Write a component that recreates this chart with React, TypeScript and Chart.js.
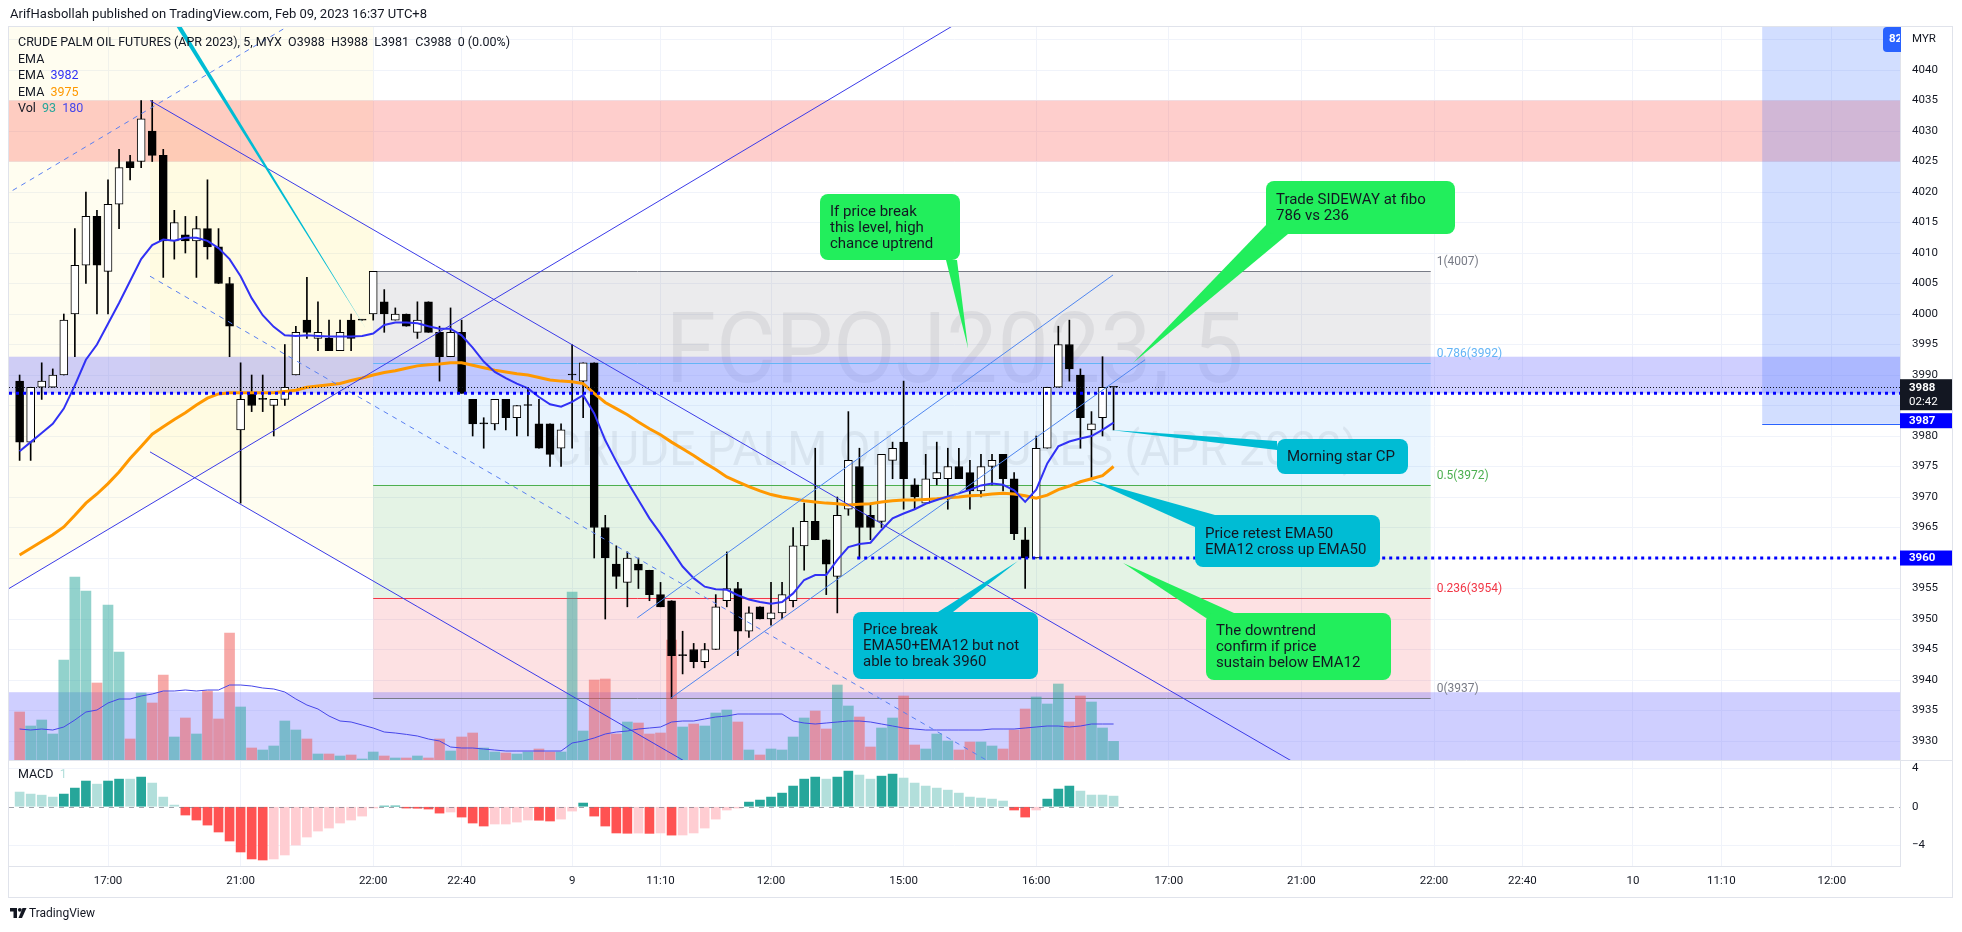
import { useEffect, useRef } from "react";
import { Chart, registerables } from "chart.js";

Chart.register(...registerables);

const FONT = 'Roboto, "Open Sans", "DejaVu Sans", sans-serif';

// ---------------- data (5-minute bars, FCPO Apr 2023) ----------------
const opens = [3989,3979,3988,3988,3990,4000,4008,4016,4007,4018, 4025,4025,4030,4026,4012,4013,4012,4014,4011,4005, 3981,3987,3986,3985,3986,3990,3999,3996,3996,3994, 3999,3999,4000,4002,3999,4000,3997,4002,3997,3993, 3997,3986,3982,3982,3986,3983,3985,3982,3982,3978, 3990,3989,3992,3965,3959,3956,3959,3958,3954,3953, 3944,3945,3943,3945,3953,3955,3948,3952,3950,3951, 3953,3962,3966,3963,3957,3968,3975,3967,3966,3976, 3979,3972,3969,3973,3973,3975,3974,3971,3975,3977, 3973,3963,3960,3978,3988,3995,3990,3981,3983,3988];
const highs = [3990,3988,3992,3991,4000,4014,4020,4017,4022,4027, 4026,4035,4035,4027,4017,4016,4016,4022,4014,4006, 3992,3990,3990,3986,3995,3998,4006,4002,3999,3999, 4000,3999,4007,4004,4001,4000,4002,4002,3998,4001, 3999,3986,3983,3986,3986,3985,3988,3986,3982,3982, 3995,3992,3992,3967,3962,3961,3960,3958,3956,3953, 3948,3946,3946,3954,3961,3956,3952,3952,3956,3956, 3965,3969,3978,3963,3970,3984,3978,3969,3977,3979, 3989,3973,3977,3979,3978,3978,3976,3977,3977,3977, 3974,3965,3980,3988,3998,3999,3991,3984,3993,3988];
const lows = [3976,3976,3986,3988,3990,3993,4005,4000,4000,4014, 4022,4024,4025,4006,4009,4010,4006,4009,4005,3993, 3969,3984,3984,3980,3985,3990,3996,3994,3994,3994, 3994,3999,3999,3997,3999,3998,3996,3997,3989,3993, 3987,3980,3978,3981,3981,3980,3980,3978,3975,3975, 3978,3983,3960,3950,3955,3952,3955,3953,3952,3937, 3941,3942,3942,3945,3952,3944,3947,3950,3949,3950, 3952,3958,3963,3954,3951,3967,3960,3963,3965,3973, 3968,3968,3969,3972,3968,3973,3968,3970,3972,3971, 3963,3955,3960,3978,3988,3989,3978,3973,3980,3981];
const closes = [3979,3988,3989,3990,3999,4008,4016,4008,4018,4024, 4024,4032,4026,4012,4015,4012,4014,4011,4005,3998, 3986,3985,3986,3986,3988,3997,3997,3997,3994,3997, 3996,3999,4007,4000,4000,3998,3999,3997,3993,3997, 3987,3982,3982,3986,3983,3985,3985,3978,3977,3981, 3990,3992,3965,3960,3957,3960,3958,3954,3952,3944, 3944,3943,3945,3952,3955,3948,3951,3950,3951,3954, 3962,3966,3963,3959,3967,3976,3965,3965,3977,3978, 3973,3970,3973,3974,3975,3973,3971,3975,3976,3973, 3964,3960,3978,3988,3995,3991,3983,3982,3988,3988];
const volumes = [240,170,200,130,500,915,845,385,775,540, 105,335,285,425,115,210,130,345,205,635, 265,60,50,70,195,150,105,30,30,20, 25,5,40,20,10,10,20,10,105,45, 115,135,60,40,35,30,40,55,40,40, 840,145,400,405,130,190,185,130,135,600, 165,180,170,235,250,190,50,25,55,50, 115,210,245,155,375,270,215,65,160,210, 320,75,55,130,95,50,90,90,70,55, 150,255,315,280,380,190,320,290,160,93];
const volumeMA = [155,150,155,150,165,200,240,250,285,305, 305,320,330,345,345,350,345,350,350,375, 375,370,360,355,340,305,275,255,220,195, 190,175,160,140,135,128,120,105,95,65, 60,60,55,50,45,45,45,45,45,45, 85,95,110,130,140,145,155,160,165,190, 195,195,205,215,220,230,230,230,230,230, 195,185,180,185,190,195,195,190,180,170, 160,155,150,150,150,150,150,150,155,155, 155,160,165,170,170,165,170,180,180,180];
const ema12 = [3977.5,3979,3980.5,3982,3984.5,3988.3,3992.5,3995,3998.4,4001.8, 4005.4,4009,4011.3,4012.2,4012,4012.5,4012.5,4012,4010.8,4009, 4006.2,4002.6,3999.8,3997.9,3996.5,3996.4,3996.5,3996.4,3996.3,3996.3, 3996.3,3996.4,3996.8,3998.2,3998.6,3998.6,3998.5,3998,3997.6,3997.6, 3996.5,3994.5,3992.2,3990.5,3989.5,3988.6,3987.8,3986.4,3985.2,3984.8, 3985.6,3986.7,3983.7,3979.3,3975.8,3972.5,3969.5,3966.5,3964,3961.3, 3958.6,3956.7,3955.3,3954.9,3954.8,3953.9,3953.2,3952.8,3952.5,3952.8, 3954.2,3956.4,3957.2,3957.2,3959.7,3961.8,3962.3,3962.5,3964.6,3966.5, 3967.3,3968,3968.9,3969.5,3970.1,3970.6,3971.2,3971.9,3972.2,3972, 3971.1,3969.2,3971.2,3975.5,3978.3,3979.1,3979.6,3980,3981,3982.2];
const ema50 = [3960.5,3961.6,3962.7,3963.8,3965.1,3967,3969,3970.5,3972.2,3974.1, 3976.3,3978.3,3980.3,3981.5,3982.7,3983.8,3985.1,3986.2,3986.9,3987.1, 3987.1,3987.1,3987.1,3987.1,3987.3,3987.5,3988,3988.2,3988.4,3988.6, 3989.1,3989.5,3990,3990.4,3990.7,3991.1,3991.5,3991.7,3991.8,3992, 3992,3991.6,3991.2,3990.8,3990.5,3990.2,3990,3989.6,3989.2,3989, 3988.9,3988.6,3987,3985.5,3984.5,3983.5,3982.3,3981.2,3980.2,3979, 3977.9,3976.8,3975.6,3974.5,3973.3,3972.5,3971.7,3971,3970.4,3970, 3969.7,3969.4,3969.2,3969,3968.9,3968.7,3968.8,3968.9,3969.2,3969.4, 3969.5,3969.5,3969.6,3969.7,3969.9,3970,3970.2,3970.3,3970.5,3970.6, 3970.5,3970.2,3969.8,3970.3,3971.2,3971.8,3972.5,3973,3973.5,3975];
const macdHist = [1.52,1.31,1.2,1.0,1.31,1.93,2.66,2.34,2.66,2.86, 2.86,3.07,2.45,1.0,0.17,-0.86,-1.38,-1.9,-2.62,-3.55, -4.69,-5.41,-5.52,-5.41,-5.0,-3.97,-3.14,-2.52,-2.21,-1.69, -1.38,-0.97,-0.14,0.07,0.08,-0.14,-0.16,-0.24,-0.66,-0.55, -1.07,-1.69,-2.0,-1.79,-1.79,-1.59,-1.38,-1.4,-1.48,-1.28, -0.45,0.38,-0.97,-2.0,-2.72,-2.75,-2.73,-2.76,-2.72,-2.94, -2.93,-2.72,-2.21,-1.28,-0.34,-0.14,0.48,0.69,1.0,1.41, 2.14,2.86,3.07,2.86,3.07,3.69,3.28,2.86,3.17,3.38, 2.97,2.45,2.14,1.93,1.72,1.41,1.0,0.9,0.79,0.59, -0.34,-1.07,-0.34,0.79,1.83,2.14,1.62,1.21,1.21,1.1];

const timeTickIndex = [8,20,32,40,50,58,68,80,92,104,116,128,136,146,154,164];
const timeTickLabels = ["17:00","21:00","22:00","22:40","9","11:10","12:00","15:00","16:00","17:00","21:00","22:00","22:40","10","11:10","12:00"];
const priceTicks = [3930,3935,3940,3945,3950,3955,3960,3965,3970,3975,3980,3985,3990,3995,4000,4005,4010,4015,4020,4025,4030,4035,4040,4045];
const badgeCoveredTicks = [3960, 3985];
const macdTicks = [-4, 0, 4];

const fibRatios = [1, 0.786, 0.5, 0.236, 0];
const fibColors = ["#787b86", "#64b5f6", "#4caf50", "#f23645", "#787b86"];
const fibFills = ["rgba(120,123,134,0.15)", "rgba(100,181,246,0.15)", "rgba(76,175,80,0.15)", "rgba(242,54,69,0.15)"];
const fibHigh = 4007, fibLow = 3937, fibStartIdx = 32, fibEndIdx = 127.7;

const hLinePrices = [3987, 3960];
const hLineStartIdx = [-2, 75.8];
const countdown = "02:42";

// axis ranges
const X_MIN = -0.96, X_MAX = 170.17;
const PRICE_MIN = 3926.89, PRICE_MAX = 4047.05;
const MACD_MIN = -6.14, MACD_MAX = 4.84;
const VOL_MIN = -530, VOL_MAX = 3665;

// drawings (time index, price)
const ascChannel = { i0: -0.87, p0: 3955.1, slope: 1.08, width: 64.9, fillEnd: 32 };
const descChannel = { i0: 11.8, upper: 4035, mid: 4006.2, lower: 3977.4, slope: -1.048, fillEnd: 32 };
const thinLines = [[55.9, 3950.2, 98.95, 4006.4], [58.95, 3937.05, 101.85, 3992.5]];

const callouts = [
  { lines: ["If price break", "this level, high", "chance uptrend"], color: "#22ee5c", anchor: [85.83, 3994.4], box: [72.43, 4019.67], size: [140, 66], tail: [[126, 66], [137, 66]] },
  { lines: ["Trade SIDEWAY at fibo", "786 vs 236"], color: "#22ee5c", anchor: [100.76, 3991.97], box: [112.8, 4021.8], size: [189, 53], tail: [[0, 44], [22, 53]] },
  { lines: ["Morning star CP"], color: "#00bcd4", anchor: [98.77, 3980.98], box: [113.8, 3979.5], size: [131, 35], tail: [[0, 2], [0, 11]] },
  { lines: ["Price retest EMA50", "EMA12 cross up EMA50"], color: "#00bcd4", anchor: [96.87, 3972.79], box: [106.4, 3967.05], size: [185, 52], tail: [[0, 12], [20, 0]] },
  { lines: ["The downtrend", "confirm if price", "sustain below EMA12"], color: "#22ee5c", anchor: [99.86, 3959.18], box: [107.4, 3950.98], size: [185, 67], tail: [[0, 5], [28, 0]] },
  { lines: ["Price break", "EMA50+EMA12 but not", "able to break 3960"], color: "#00bcd4", anchor: [90.35, 3959.51], box: [75.43, 3951.15], size: [185, 67], tail: [[85, 0], [100, 0]] },
];
const topTail = { anchor: [31.3, 3997.7], base: [[4.18, 4076.07], [4.9, 4076.07]] };

function rr(ctx: any, x: number, y: number, w: number, h: number, r: number) {
  ctx.beginPath();
  ctx.moveTo(x + r, y);
  ctx.arcTo(x + w, y, x + w, y + h, r);
  ctx.arcTo(x + w, y + h, x, y + h, r);
  ctx.arcTo(x, y + h, x, y, r);
  ctx.arcTo(x, y, x + w, y, r);
  ctx.closePath();
}

export default function App() {
  const ref = useRef<HTMLCanvasElement>(null);

  useEffect(() => {
    const canvas = ref.current!;
    const idx = opens.map((_, i) => i);
    const last = opens.length - 1;

    const macdColors = macdHist.map((v, i) => {
      const prev = i > 0 ? macdHist[i - 1] : undefined;
      if (v >= 0) return prev !== undefined && v > prev ? "#26a69a" : "#b2dfdb";
      return prev !== undefined && v < prev ? "#ff5252" : "#ffcdd2";
    });

    const overlay = {
      id: "overlay",
      beforeDraw(chart: any) {
        const ctx = chart.ctx;
        ctx.save();
        ctx.fillStyle = "#ffffff";
        ctx.fillRect(0, 0, chart.width, chart.height);
        ctx.restore();
      },
      beforeDatasetsDraw(chart: any) {
        const ctx = chart.ctx;
        const xs = chart.scales.x, ys = chart.scales.y;
        const L = chart.chartArea.left, R = chart.chartArea.right, T = ys.top, B = ys.bottom;
        const X = (v: number) => xs.getPixelForValue(v);
        const Y = (p: number) => ys.getPixelForValue(p);
        ctx.save();
        ctx.beginPath(); ctx.rect(L, T, R - L, B - T); ctx.clip();

        // watermark
        const cx = (L + R) / 2, cy = (T + B) / 2;
        ctx.fillStyle = "rgba(120,123,134,0.13)";
        ctx.textAlign = "center"; ctx.textBaseline = "alphabetic";
        const fit = (t: string, size: number, target: number, y: number) => {
          ctx.font = `${size}px ${FONT}`;
          const w = ctx.measureText(t).width;
          ctx.save(); ctx.translate(cx, y); ctx.scale(target / w, 1); ctx.fillText(t, 0, 0); ctx.restore();
        };
        fit("FCPOJ2023, 5", 98, 578, cy - 11.5);
        fit("CRUDE PALM OIL FUTURES (APR 2023)", 48, 807, cy + 71.5);

        // ascending channel fill (above lower line, until fillEnd)
        const aP = (i: number) => ascChannel.p0 + ascChannel.slope * (i - ascChannel.i0);
        ctx.fillStyle = "rgba(255,238,90,0.09)";
        ctx.beginPath();
        ctx.moveTo(X(X_MIN), Y(aP(X_MIN)));
        ctx.lineTo(X(ascChannel.fillEnd), Y(aP(ascChannel.fillEnd)));
        ctx.lineTo(X(ascChannel.fillEnd), Y(aP(ascChannel.fillEnd) + 2 * ascChannel.width));
        ctx.lineTo(X(X_MIN), Y(aP(X_MIN) + 2 * ascChannel.width));
        ctx.closePath(); ctx.fill();
        // descending channel fill
        const dP = (base: number, i: number) => base + descChannel.slope * (i - descChannel.i0);
        ctx.beginPath();
        ctx.moveTo(X(descChannel.i0), Y(descChannel.upper));
        ctx.lineTo(X(descChannel.fillEnd), Y(dP(descChannel.upper, descChannel.fillEnd)));
        ctx.lineTo(X(descChannel.fillEnd), Y(dP(descChannel.lower, descChannel.fillEnd)));
        ctx.lineTo(X(descChannel.i0), Y(descChannel.lower));
        ctx.closePath(); ctx.fill();

        // fib retracement fills
        const fx0 = X(fibStartIdx), fx1 = X(fibEndIdx);
        const fibP = fibRatios.map(r => fibLow + r * (fibHigh - fibLow));
        for (let k = 0; k < fibFills.length; k++) {
          ctx.fillStyle = fibFills[k];
          const y0 = Y(fibP[k]), y1 = Y(fibP[k + 1]);
          ctx.fillRect(fx0, y0, fx1 - fx0, y1 - y0);
        }

        // zones
        ctx.fillStyle = "rgba(250,60,50,0.25)";
        ctx.fillRect(L, Y(4035), R - L, Y(4025) - Y(4035));
        ctx.fillStyle = "rgba(110,110,255,0.33)";
        ctx.fillRect(L, Y(3993), R - L, Y(3987) - Y(3993));
        ctx.fillRect(L, Y(3938), R - L, B - Y(3938) + 2);
        ctx.fillStyle = "rgba(41,98,255,0.21)";
        ctx.fillRect(X(157.7), T, R - X(157.7), Y(3982) - T);
        ctx.strokeStyle = "#2962ff"; ctx.lineWidth = 1;
        ctx.beginPath(); ctx.moveTo(X(157.7), Math.round(Y(3982)) + 0.5); ctx.lineTo(R, Math.round(Y(3982)) + 0.5); ctx.stroke();

        // fib lines + labels
        ctx.lineWidth = 1;
        ctx.font = `12px ${FONT}`; ctx.textAlign = "left"; ctx.textBaseline = "middle";
        fibRatios.forEach((r, k) => {
          const y = Math.round(Y(fibP[k])) + 0.5;
          ctx.strokeStyle = fibColors[k];
          ctx.beginPath(); ctx.moveTo(fx0, y); ctx.lineTo(fx1, y); ctx.stroke();
          ctx.fillStyle = fibColors[k];
          ctx.fillText(`${r}(${Math.round(fibP[k])})`, fx1 + 6, y - 10);
        });
        ctx.restore();
      },
      afterDatasetsDraw(chart: any) {
        const ctx = chart.ctx;
        const xs = chart.scales.x, ys = chart.scales.y, ym = chart.scales.yM;
        const L = chart.chartArea.left, R = chart.chartArea.right, T = ys.top, B = ys.bottom;
        const X = (v: number) => xs.getPixelForValue(v);
        const Y = (p: number) => ys.getPixelForValue(p);
        ctx.save();
        ctx.beginPath(); ctx.rect(L, T, R - L, B - T); ctx.clip();

        const seg = (i1: number, p1: number, i2: number, p2: number, color: string, dash: number[]) => {
          ctx.strokeStyle = color; ctx.lineWidth = 1; ctx.setLineDash(dash);
          ctx.beginPath(); ctx.moveTo(X(i1), Y(p1)); ctx.lineTo(X(i2), Y(p2)); ctx.stroke();
        };
        // ascending channel (extended)
        const aP = (i: number) => ascChannel.p0 + ascChannel.slope * (i - ascChannel.i0);
        seg(X_MIN - 2, aP(X_MIN - 2), X_MAX, aP(X_MAX), "#3b3be8", []);
        seg(X_MIN - 2, aP(X_MIN - 2) + ascChannel.width, X_MAX, aP(X_MAX) + ascChannel.width, "#5a80f2", [5, 5]);
        // descending channel (extended right)
        const dEnd = X_MAX;
        const dd = descChannel.slope * (dEnd - descChannel.i0);
        seg(descChannel.i0, descChannel.upper, dEnd, descChannel.upper + dd, "#3b3be8", []);
        seg(descChannel.i0, descChannel.mid, dEnd, descChannel.mid + dd, "#5a80f2", [5, 5]);
        seg(descChannel.i0, descChannel.lower, dEnd, descChannel.lower + dd, "#3b3be8", []);
        thinLines.forEach(l => seg(l[0], l[1], l[2], l[3], "#4f86f0", []));
        ctx.setLineDash([]);

        // horizontal lines
        ctx.strokeStyle = "#131722"; ctx.lineWidth = 1; ctx.setLineDash([1, 2]);
        let y = Math.round(Y(closes[last])) + 0.5;
        ctx.beginPath(); ctx.moveTo(L, y); ctx.lineTo(R, y); ctx.stroke();
        ctx.strokeStyle = "#0000ff"; ctx.lineWidth = 3; ctx.setLineDash([3, 4]);
        hLinePrices.forEach((p, k) => {
          const yy = Y(p);
          ctx.beginPath(); ctx.moveTo(Math.max(L, X(hLineStartIdx[k])), yy); ctx.lineTo(R, yy); ctx.stroke();
        });
        ctx.setLineDash([]);

        // tail of an off-screen callout
        ctx.fillStyle = "#00bcd4";
        ctx.beginPath();
        ctx.moveTo(X(topTail.anchor[0]), Y(topTail.anchor[1]));
        ctx.lineTo(X(topTail.base[0][0]), Y(topTail.base[0][1]));
        ctx.lineTo(X(topTail.base[1][0]), Y(topTail.base[1][1]));
        ctx.closePath(); ctx.fill();

        // callouts
        callouts.forEach(c => {
          const bx = Math.round(X(c.box[0])), by = Math.round(Y(c.box[1]));
          const [w, h] = c.size;
          ctx.fillStyle = c.color;
          ctx.beginPath();
          ctx.moveTo(X(c.anchor[0]), Y(c.anchor[1]));
          ctx.lineTo(bx + c.tail[0][0], by + c.tail[0][1]);
          ctx.lineTo(bx + c.tail[1][0], by + c.tail[1][1]);
          ctx.closePath(); ctx.fill();
          rr(ctx, bx, by, w, h, 8); ctx.fill();
          ctx.fillStyle = "#131722";
          ctx.font = `15px ${FONT}`; ctx.textAlign = "left"; ctx.textBaseline = "middle";
          const n = c.lines.length;
          c.lines.forEach((t, k) => ctx.fillText(t, bx + 10, by + h / 2 + (k - (n - 1) / 2) * 16 + 1));
        });
        ctx.restore();

        // MACD zero line
        ctx.save();
        ctx.strokeStyle = "rgba(120,123,134,0.7)"; ctx.lineWidth = 1; ctx.setLineDash([5, 5]);
        const zy = Math.round(ym.getPixelForValue(0)) + 0.5;
        ctx.beginPath(); ctx.moveTo(L, zy); ctx.lineTo(R, zy); ctx.stroke();
        ctx.restore();
      },
      afterDraw(chart: any) {
        const ctx = chart.ctx;
        const ys = chart.scales.y, ym = chart.scales.yM;
        const L = chart.chartArea.left, R = chart.chartArea.right;
        const Y = (p: number) => ys.getPixelForValue(p);
        const axisR = R + 52;
        ctx.save();
        // frame & separators
        ctx.strokeStyle = "#e0e3eb"; ctx.lineWidth = 1;
        ctx.strokeRect(L - 0.5, chart.chartArea.top - 0.5, axisR - L + 1, chart.chartArea.bottom + 31 - chart.chartArea.top + 1);
        ctx.beginPath(); ctx.moveTo(L, Math.round(ym.top) + 0.5); ctx.lineTo(axisR, Math.round(ym.top) + 0.5); ctx.stroke();

        // legend
        ctx.textAlign = "left"; ctx.textBaseline = "middle";
        ctx.font = `12.5px ${FONT}`;
        const drawParts = (parts: [string, string][], x: number, y: number) => {
          let cx = x;
          parts.forEach(([t, c]) => { ctx.fillStyle = c; ctx.fillText(t, cx, y); cx += ctx.measureText(t).width; });
        };
        const chg = closes[last] - closes[last - 1];
        drawParts([["CRUDE PALM OIL FUTURES (APR 2023), 5, MYX", "#131722"],
          [`  O${opens[last]}  H${highs[last]}  L${lows[last]}  C${closes[last]}  ${chg} (${(chg / closes[last - 1] * 100).toFixed(2)}%)`, "#131722"]], 18, 43);
        drawParts([["EMA", "#131722"]], 18, 59.5);
        drawParts([["EMA  ", "#131722"], [String(Math.round(ema12[last])), "#3131f5"]], 18, 76);
        drawParts([["EMA  ", "#131722"], [String(Math.round(ema50[last])), "#ff9800"]], 18, 92.5);
        drawParts([["Vol  ", "#131722"], [String(volumes[last]), "#26a69a"], ["  ", "#131722"], [String(volumeMA[last]), "#4646ea"]], 18, 109);
        drawParts([["MACD  ", "#131722"], ["1", "#b2dfdb"]], 18, Math.round(ym.top) + 15);

        // price axis badges
        const ax = R;
        const py = Y(closes[last]);
        ctx.fillStyle = "#131722";
        ctx.fillRect(ax, py - 8, 52, 31);
        ctx.fillStyle = "#ffffff"; ctx.font = `bold 11.5px ${FONT}`;
        ctx.fillText(String(closes[last]), ax + 9, py + 0.5);
        ctx.font = `11.5px ${FONT}`;
        ctx.fillText(countdown, ax + 9, py + 14.5);
        // 3987 badge (pushed below the current-price badge)
        ctx.fillStyle = "#0000ff";
        ctx.fillRect(ax, py + 26, 52, 15);
        ctx.fillStyle = "#ffffff"; ctx.font = `bold 11.5px ${FONT}`;
        ctx.fillText(String(hLinePrices[0]), ax + 9, py + 33.5);
        const y60 = Y(hLinePrices[1]);
        ctx.fillStyle = "#0000ff";
        ctx.fillRect(ax, y60 - 7.5, 52, 15);
        ctx.fillStyle = "#ffffff";
        ctx.fillText(String(hLinePrices[1]), ax + 9, y60);

        // cut badge at the top right of the pane
        ctx.fillStyle = "#2962ff";
        rr(ctx, R - 17, ys.top, 22, 25, 4); ctx.fill();
        ctx.fillStyle = "#ffffff"; ctx.font = `bold 11.5px ${FONT}`;
        ctx.save(); ctx.beginPath(); ctx.rect(R - 17, ys.top, 17, 25); ctx.clip();
        ctx.fillText("82", R - 11, ys.top + 12.5); ctx.restore();
        ctx.fillStyle = "#ffffff"; ctx.fillRect(R + 1, ys.top, 51, 25);
        ctx.fillStyle = "#131722"; ctx.font = `11.5px ${FONT}`;
        ctx.fillText("MYR", R + 12, Y(4045));

        // header
        ctx.fillStyle = "#131722"; ctx.font = `13px ${FONT}`;
        ctx.fillText("ArifHasbollah published on TradingView.com, Feb 09, 2023 16:37 UTC+8", 10, 15);
        // footer logo
        ctx.fillStyle = "#131722";
        ctx.fillRect(10, 908, 7, 3.5);
        ctx.fillRect(13.5, 908, 3.5, 10);
        ctx.beginPath(); ctx.arc(19.8, 909.8, 1.9, 0, Math.PI * 2); ctx.fill();
        ctx.beginPath(); ctx.moveTo(22.5, 908); ctx.lineTo(26.5, 908); ctx.lineTo(22, 918); ctx.lineTo(18.5, 918); ctx.closePath(); ctx.fill();
        ctx.font = `12px ${FONT}`;
        ctx.fillText("TradingView", 29, 913.5);
        ctx.restore();
      },
    };

    const chart = new Chart(canvas, {
      type: "bar",
      data: {
        datasets: [
          { type: "line", label: "EMA12", data: idx.map(i => ({ x: i, y: ema12[i] })), xAxisID: "x", yAxisID: "y", borderColor: "#3131f5", borderWidth: 2, pointRadius: 0, tension: 0, order: 0 } as any,
          { type: "line", label: "EMA50", data: idx.map(i => ({ x: i, y: ema50[i] })), xAxisID: "x", yAxisID: "y", borderColor: "#ff9800", borderWidth: 3, pointRadius: 0, tension: 0, order: 1 } as any,
          { type: "bar", label: "body", data: idx.map(i => ({ x: i, y: [opens[i], closes[i]] })), xAxisID: "x", yAxisID: "y", backgroundColor: idx.map(i => (closes[i] > opens[i] ? "#ffffff" : "#000000")), borderColor: "#000000", borderWidth: 1, borderSkipped: false, barThickness: 8, minBarLength: 1, grouped: false, order: 2 } as any,
          { type: "bar", label: "wick", data: idx.map(i => ({ x: i, y: [lows[i], highs[i]] })), xAxisID: "x", yAxisID: "y", backgroundColor: "#000000", barThickness: 1, grouped: false, order: 3 } as any,
          { type: "line", label: "VolMA", data: idx.map(i => ({ x: i, y: volumeMA[i] })), xAxisID: "x", yAxisID: "yV", borderColor: "#4646ea", borderWidth: 1, pointRadius: 0, tension: 0, order: 4 } as any,
          { type: "bar", label: "Volume", data: idx.map(i => ({ x: i, y: volumes[i] })), xAxisID: "x", yAxisID: "yV", backgroundColor: idx.map(i => (closes[i] >= opens[i] ? "rgba(38,166,154,0.5)" : "rgba(239,83,80,0.5)")), barThickness: 10, grouped: false, order: 5 } as any,
          { type: "bar", label: "MACD", data: idx.map(i => ({ x: i, y: macdHist[i] })), xAxisID: "x", yAxisID: "yM", backgroundColor: macdColors, barThickness: 9, grouped: false, order: 6 } as any,
        ],
      },
      options: {
        responsive: false,
        animation: false,
        devicePixelRatio: 1,
        events: [],
        layout: { padding: { left: 9, top: 27, right: 10, bottom: 35 } },
        plugins: { legend: { display: false }, tooltip: { enabled: false } },
        scales: {
          x: {
            type: "linear", position: "bottom", min: X_MIN, max: X_MAX, offset: false,
            grid: { color: "#f0f3fa", drawTicks: false, offset: false },
            border: { color: "#e0e3eb" },
            afterBuildTicks: (s: any) => { s.ticks = timeTickIndex.map(v => ({ value: v })); },
            afterFit: (s: any) => { s.height = 31; },
            ticks: { autoSkip: false, maxRotation: 0, padding: 8, color: "#131722", font: { family: FONT, size: 11.5 },
              callback: (v: any) => timeTickLabels[timeTickIndex.indexOf(v)] },
          },
          y: {
            type: "linear", position: "right", stack: "panes", stackWeight: 733, min: PRICE_MIN, max: PRICE_MAX,
            grid: { color: "#f0f3fa", drawTicks: false },
            border: { color: "#e0e3eb" },
            afterBuildTicks: (s: any) => { s.ticks = priceTicks.map(v => ({ value: v })); },
            afterFit: (s: any) => { s.width = 52; },
            ticks: { autoSkip: false, padding: 12, color: "#131722", font: { family: FONT, size: 11.5 },
              callback: (v: any) => (v === 4045 || badgeCoveredTicks.includes(v) ? "" : String(v)) },
          },
          yM: {
            type: "linear", position: "right", stack: "panes", stackWeight: 106, min: MACD_MIN, max: MACD_MAX,
            grid: { color: (c: any) => (c.tick && c.tick.value === 0 ? "rgba(0,0,0,0)" : "#f0f3fa"), drawTicks: false },
            border: { color: "#e0e3eb" },
            afterBuildTicks: (s: any) => { s.ticks = macdTicks.map(v => ({ value: v })); },
            afterFit: (s: any) => { s.width = 52; },
            ticks: { autoSkip: false, padding: 12, color: "#131722", font: { family: FONT, size: 11.5 },
              callback: (v: any) => (v < 0 ? "\u2212" + Math.abs(v) : String(v)) },
          },
          yV: { type: "linear", position: "right", display: false, min: VOL_MIN, max: VOL_MAX, grid: { drawOnChartArea: false } },
        },
      } as any,
      plugins: [overlay],
    });
    return () => chart.destroy();
  }, []);

  return (
    <div style={{ position: "fixed", left: 0, top: 0, width: 1962, height: 932, background: "#ffffff" }}>
      <canvas ref={ref} width={1962} height={932} style={{ display: "block", width: 1962, height: 932 }} />
    </div>
  );
}
